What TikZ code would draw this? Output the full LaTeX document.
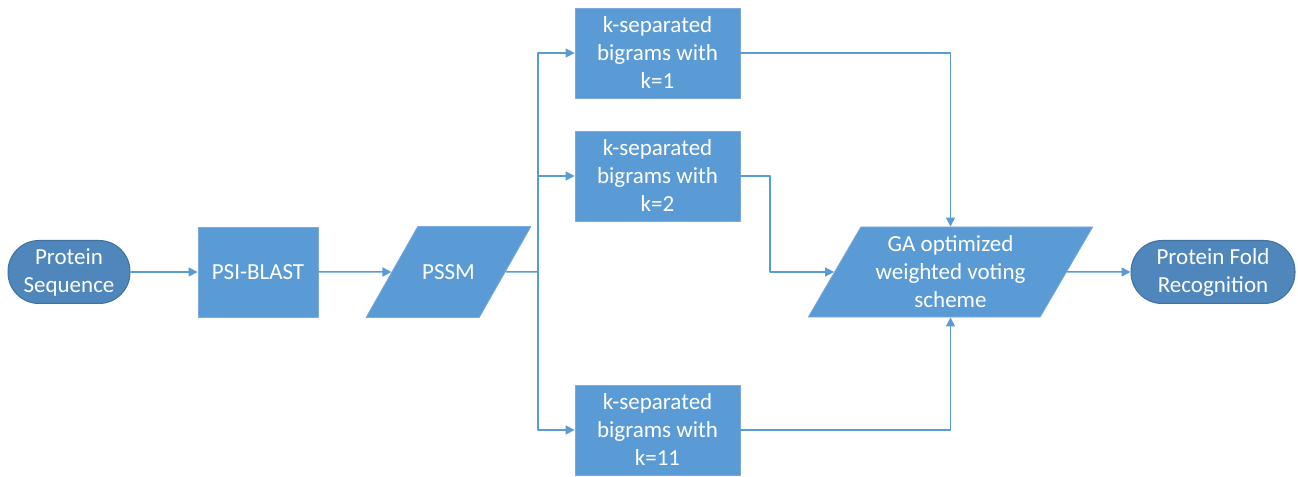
\documentclass[tikz,border=0pt]{standalone}
\usepackage{fontspec}
\setmainfont{Carlito}
\usetikzlibrary{arrows.meta}
\usetikzlibrary{shapes.geometric}
\definecolor{boxblue}{HTML}{5B9BD5}
\definecolor{boxedge}{HTML}{7BA9DC}
\definecolor{termblue}{HTML}{4F86BC}
\definecolor{termedge}{HTML}{41719C}

\begin{document}
\begin{tikzpicture}[>={Triangle[length=9bp,width=9bp]},line join=bevel,
  every node/.style={text=white,align=center,inner sep=0pt,font=\fontsize{23bp}{28bp}\selectfont},
  procbox/.style={draw=boxedge,fill=boxblue,line width=0.8bp,minimum height=90bp},
  iobox/.style={procbox,trapezium,trapezium left angle=64,trapezium right angle=116,trapezium stretches=true},
  termbox/.style={draw=termedge,fill=termblue,line width=1bp,rounded corners=31bp,minimum height=63bp},
  link/.style={draw=boxblue,line width=1.5bp}]
%%
\useasboundingbox (0bp,0bp) rectangle (1298bp,477bp);
\node (node_seq) at (69bp,205bp) [termbox,minimum width=122bp] {Protein\\Sequence};
  \node (node_blast) at (258bp,205bp) [procbox,minimum width=120bp] {PSI-BLAST};
  \node (node_pssm) at (448.5bp,205bp) [iobox,inner ysep=38bp,minimum width=165bp] {PSSM};
  \node (node_k1) at (657.5bp,424bp) [procbox,minimum width=165bp] {k-separated\\bigrams with\\k=1};
  \node (node_k2) at (657.5bp,301bp) [procbox,minimum width=165bp] {k-separated\\bigrams with\\k=2};
  \node (node_k11) at (657.5bp,47bp) [procbox,minimum width=165bp] {k-separated\\bigrams with\\k=11};
  \node (node_ga) at (950.5bp,205bp) [iobox,inner ysep=9bp,minimum width=285bp] {GA optimized\\weighted voting\\scheme};
  \node (node_fold) at (1213bp,205bp) [termbox,minimum width=164bp] {Protein Fold\\Recognition};
  \coordinate (node_split) at (538bp,205bp);
  \coordinate (node_bend) at (770bp,301bp);
%
  \draw [link,->] (node_seq) -- (node_blast);
  \draw [link,->] (node_blast) -- (node_pssm);
  \draw [link] (node_pssm) -- (node_split);
  \draw [link,->] (node_split) |- (node_k1);
  \draw [link,->] (node_split) |- (node_k2);
  \draw [link,->] (node_split) |- (node_k11);
  \draw [link,->] (node_k1) -| (node_ga);
  \draw [link,->] (node_k11) -| (node_ga);
  \draw [link,->] (node_k2) -- (node_bend) |- (node_ga);
  \draw [link,->] (node_ga) -- (node_fold);
%
\end{tikzpicture}
\end{document}
